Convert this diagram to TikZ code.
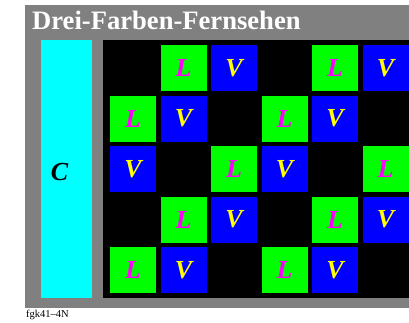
\documentclass[tikz,border=0pt]{standalone}
\usepackage{fontspec}
\setmainfont{Liberation Serif}
\definecolor{bgray}{RGB}{128,128,128}
\definecolor{ccyan}{RGB}{0,255,255}
\definecolor{cgreen}{RGB}{0,255,0}
\definecolor{cblue}{RGB}{0,0,255}
\definecolor{cmag}{RGB}{255,0,255}
\definecolor{cyel}{RGB}{255,255,0}
\begin{document}
\begin{tikzpicture}[x=1pt,y=-1pt,
  lsq/.style={fill=cgreen,minimum size=46pt,inner sep=0pt,text=cmag,font=\fontsize{26}{26}\selectfont\bfseries\itshape},
  vsq/.style={fill=cblue,minimum size=46pt,inner sep=0pt,text=cyel,font=\fontsize{26}{26}\selectfont\bfseries\itshape}]
\useasboundingbox (0,0) rectangle (409,322);
\fill[white] (0,0) rectangle (409,322);
\fill[bgray] (25,5) rectangle (409,307.5);
\node[fill=ccyan,minimum width=51pt,minimum height=258pt,inner sep=0pt] (cbar) at (66.5,169) {};
\node[font=\fontsize{26}{26}\selectfont\bfseries\itshape,text=black] (c) at (59.5,172) {C};
\fill[black] (103,40) rectangle (409,298);
\node[anchor=base west,text=white,font=\fontsize{26.6}{26.6}\selectfont\bfseries,inner sep=0pt] (title) at (32,29) {Drei-Farben-Fernsehen};
\node[anchor=base west,font=\fontsize{10.5}{10.5}\selectfont,inner sep=0pt] (lab) at (26,317) {fgk41--4N};
% row 1
\node[lsq] (r1c2) at (183.5,68) {L};
\node[vsq] (r1c3) at (234,68) {V};
\node[lsq] (r1c5) at (335,68) {L};
\node[vsq] (r1c6) at (385.5,68) {V};
% row 2
\node[lsq] (r2c1) at (133,118.5) {L};
\node[vsq] (r2c2) at (183.5,118.5) {V};
\node[lsq] (r2c4) at (284.5,118.5) {L};
\node[vsq] (r2c5) at (335,118.5) {V};
% row 3
\node[vsq] (r3c1) at (133,169) {V};
\node[lsq] (r3c3) at (234,169) {L};
\node[vsq] (r3c4) at (284.5,169) {V};
\node[lsq] (r3c6) at (385.5,169) {L};
% row 4
\node[lsq] (r4c2) at (183.5,219.5) {L};
\node[vsq] (r4c3) at (234,219.5) {V};
\node[lsq] (r4c5) at (335,219.5) {L};
\node[vsq] (r4c6) at (385.5,219.5) {V};
% row 5
\node[lsq] (r5c1) at (133,270) {L};
\node[vsq] (r5c2) at (183.5,270) {V};
\node[lsq] (r5c4) at (284.5,270) {L};
\node[vsq] (r5c5) at (335,270) {V};
\end{tikzpicture}
\end{document}
